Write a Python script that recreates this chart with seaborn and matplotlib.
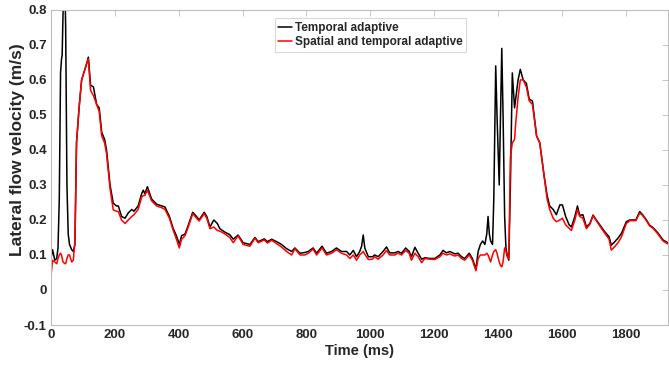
import numpy as np
import pandas as pd
import seaborn as sns
import matplotlib
matplotlib.use('Agg')
import matplotlib.pyplot as plt
from matplotlib.ticker import FuncFormatter

# values
time_ms = [0, 5, 12, 18, 22, 26, 30, 33, 35, 38, 40, 44, 46, 50, 54, 58, 65, 70, 75, 80,
           88, 96, 106, 113, 117, 120, 124, 133, 143, 151, 159, 168, 174, 185, 195, 205, 211,
           221, 232, 242, 253, 260, 273, 284, 289, 294, 302, 315, 331, 347, 357, 371, 383,
           393, 402, 409, 420, 430, 444, 456, 464, 480, 488, 498, 510, 521, 529, 545, 560,
           571, 586, 602, 623, 639, 649, 668, 678, 691, 707, 722, 738, 754, 764, 780, 795,
           806, 821, 832, 849, 863, 879, 894, 910, 926, 936, 947, 957, 967, 973, 978, 983,
           994, 1007, 1014, 1025, 1040, 1051, 1061, 1077, 1087, 1098, 1111, 1122, 1129, 1140,
           1150, 1161, 1171, 1187, 1202, 1218, 1228, 1239, 1249, 1265, 1275, 1286, 1296, 1310,
           1320, 1331, 1338, 1345, 1352, 1359, 1365, 1369, 1373, 1377, 1383, 1387, 1393, 1397,
           1404, 1408, 1412, 1416, 1421, 1425, 1429, 1434, 1439, 1445, 1452, 1456, 1463, 1470,
           1479, 1489, 1498, 1508, 1521, 1531, 1544, 1554, 1562, 1573, 1583, 1594, 1602, 1612,
           1623, 1630, 1641, 1649, 1656, 1666, 1677, 1688, 1698, 1708, 1719, 1734, 1748, 1755,
           1766, 1776, 1787, 1802, 1813, 1832, 1844, 1854, 1865, 1875, 1886, 1901, 1917, 1935]

temporal = [0.09, 0.115, 0.085, 0.09, 0.12, 0.26, 0.62, 0.66, 0.67, 0.80, 0.85, 0.85, 0.75,
            0.30, 0.16, 0.13, 0.115, 0.11, 0.13, 0.42, 0.52, 0.60, 0.63, 0.65, 0.665, 0.63,
            0.585, 0.58, 0.53, 0.52, 0.45, 0.43, 0.40, 0.30, 0.248, 0.24, 0.24, 0.21, 0.205,
            0.22, 0.23, 0.225, 0.24, 0.275, 0.285, 0.275, 0.295, 0.26, 0.245, 0.24, 0.237,
            0.21, 0.175, 0.155, 0.13, 0.155, 0.16, 0.185, 0.222, 0.21, 0.20, 0.222, 0.21,
            0.18, 0.20, 0.19, 0.175, 0.165, 0.158, 0.145, 0.157, 0.135, 0.13, 0.15, 0.138,
            0.146, 0.138, 0.145, 0.138, 0.13, 0.118, 0.11, 0.12, 0.105, 0.107, 0.11, 0.12,
            0.105, 0.125, 0.105, 0.11, 0.12, 0.11, 0.11, 0.10, 0.113, 0.095, 0.11, 0.125,
            0.157, 0.12, 0.095, 0.095, 0.10, 0.095, 0.11, 0.123, 0.106, 0.106, 0.11, 0.105,
            0.12, 0.11, 0.095, 0.122, 0.105, 0.088, 0.092, 0.09, 0.09, 0.10, 0.113, 0.106,
            0.11, 0.103, 0.105, 0.095, 0.09, 0.105, 0.09, 0.06, 0.11, 0.13, 0.14, 0.13, 0.16,
            0.21, 0.16, 0.14, 0.13, 0.26, 0.64, 0.50, 0.30, 0.50, 0.69, 0.50, 0.21, 0.12,
            0.10, 0.085, 0.30, 0.62, 0.52, 0.55, 0.60, 0.63, 0.60, 0.59, 0.545, 0.54, 0.44,
            0.42, 0.33, 0.27, 0.24, 0.23, 0.215, 0.243, 0.243, 0.21, 0.186, 0.18, 0.21, 0.24,
            0.213, 0.215, 0.18, 0.19, 0.214, 0.20, 0.186, 0.167, 0.152, 0.128, 0.138, 0.148,
            0.162, 0.195, 0.20, 0.20, 0.224, 0.214, 0.20, 0.185, 0.178, 0.163, 0.143, 0.133]

spatial_temporal = [0.04, 0.085, 0.08, 0.075, 0.09, 0.10, 0.105, 0.10, 0.09, 0.08, 0.078,
                    0.075, 0.075, 0.09, 0.10, 0.10, 0.08, 0.085, 0.14, 0.42, 0.52, 0.60, 0.63,
                    0.65, 0.66, 0.62, 0.57, 0.555, 0.53, 0.51, 0.44, 0.42, 0.39, 0.29, 0.229,
                    0.225, 0.224, 0.20, 0.19, 0.20, 0.21, 0.215, 0.23, 0.265, 0.27, 0.27, 0.285,
                    0.255, 0.24, 0.235, 0.23, 0.205, 0.17, 0.145, 0.12, 0.145, 0.155, 0.18,
                    0.218, 0.205, 0.197, 0.218, 0.205, 0.175, 0.18, 0.17, 0.168, 0.16, 0.15,
                    0.135, 0.155, 0.13, 0.125, 0.148, 0.135, 0.143, 0.134, 0.142, 0.132, 0.123,
                    0.11, 0.10, 0.118, 0.10, 0.10, 0.105, 0.117, 0.10, 0.12, 0.10, 0.105, 0.115,
                    0.105, 0.10, 0.09, 0.10, 0.085, 0.10, 0.105, 0.11, 0.102, 0.087, 0.088,
                    0.095, 0.088, 0.10, 0.113, 0.10, 0.10, 0.105, 0.10, 0.113, 0.105, 0.085,
                    0.105, 0.095, 0.078, 0.09, 0.088, 0.087, 0.095, 0.105, 0.10, 0.103, 0.097,
                    0.10, 0.09, 0.085, 0.10, 0.085, 0.055, 0.09, 0.10, 0.10, 0.10, 0.105, 0.10,
                    0.09, 0.08, 0.10, 0.11, 0.115, 0.105, 0.08, 0.07, 0.066, 0.08, 0.12, 0.11,
                    0.095, 0.09, 0.38, 0.42, 0.43, 0.48, 0.55, 0.60, 0.60, 0.58, 0.54, 0.53,
                    0.44, 0.42, 0.33, 0.26, 0.23, 0.205, 0.195, 0.20, 0.205, 0.186, 0.176, 0.17,
                    0.20, 0.23, 0.21, 0.205, 0.175, 0.188, 0.212, 0.198, 0.183, 0.163, 0.145,
                    0.114, 0.124, 0.135, 0.152, 0.19, 0.198, 0.198, 0.22, 0.212, 0.198, 0.183,
                    0.176, 0.16, 0.14, 0.13]

series_names = ['Temporal adaptive', 'Spatial and temporal adaptive']
x_ticks = [0, 200, 400, 600, 800, 1000, 1200, 1400, 1600, 1800]
y_ticks = [-0.1, 0, 0.1, 0.2, 0.3, 0.4, 0.5, 0.6, 0.7, 0.8]

df = pd.concat([
    pd.DataFrame({'time': time_ms, 'velocity': temporal, 'method': series_names[0]}),
    pd.DataFrame({'time': time_ms, 'velocity': spatial_temporal, 'method': series_names[1]}),
])

sns.set_style('white')
plt.rcParams['font.family'] = ['Liberation Sans', 'DejaVu Sans']

fig = plt.figure(figsize=(6.69, 3.66), dpi=100)
ax = fig.add_axes([0.0762, 0.112, 0.922, 0.861])

sns.lineplot(data=df, x='time', y='velocity', hue='method', estimator=None, sort=False,
             palette={series_names[0]: 'black', series_names[1]: '#ff0000'},
             linewidth=1.1, ax=ax)

ax.set_xlim(0, 1932)
ax.set_ylim(-0.1, 0.8)
ax.set_xticks(x_ticks)
ax.set_yticks(y_ticks)
ax.yaxis.set_major_formatter(FuncFormatter(lambda v, p: '%g' % round(v, 2)))

for s in ax.spines.values():
    s.set_color('#bdbdbd')
    s.set_linewidth(0.8)
ax.tick_params(direction='in', length=4, width=0.6, color='#bdbdbd',
               top=True, right=True, labelsize=9.5, pad=3)
for lab in ax.get_xticklabels() + ax.get_yticklabels():
    lab.set_fontweight('bold')

ax.set_xlabel('Time (ms)', fontsize=10.5, fontweight='bold', labelpad=2)
ax.set_ylabel('Lateral flow velocity (m/s)', fontsize=12.5, fontweight='bold')
ax.yaxis.set_label_coords(-0.042, 0.555)

leg = ax.legend(loc='upper left', bbox_to_anchor=(0.353, 0.992), frameon=True, fancybox=False,
                handlelength=1.2, handletextpad=0.2, borderpad=0.3, labelspacing=0.2,
                prop={'weight': 'bold', 'size': 8.5})
leg.get_frame().set_edgecolor('#d0d0d0')
leg.get_frame().set_linewidth(0.8)
for line in leg.get_lines():
    line.set_linewidth(1.1)

fig.savefig('out.png', dpi=100)
